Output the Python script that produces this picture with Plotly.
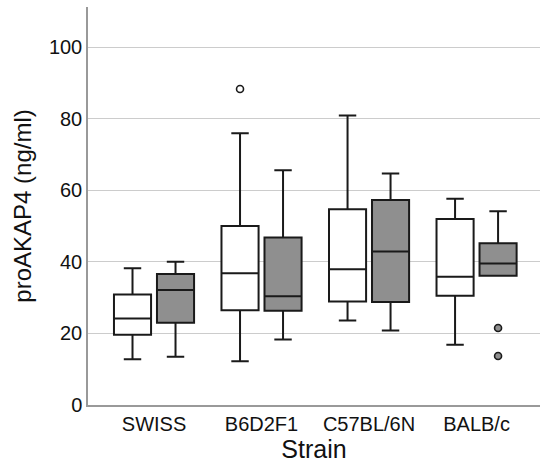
import plotly.graph_objects as go

strains = ["SWISS", "B6D2F1", "C57BL/6N", "BALB/c"]

# group A (white boxes)
a_low = [12.8, 12.2, 23.6, 16.8]
a_q1 = [19.6, 26.5, 28.9, 30.5]
a_med = [24.2, 36.8, 37.9, 35.8]
a_q3 = [30.9, 50.0, 54.7, 52.0]
a_high = [38.2, 75.9, 80.9, 57.6]
a_out_strain = [1]
a_out_val = [88.3]

# group B (gray boxes)
b_low = [13.5, 18.3, 20.8, 36.1]
b_q1 = [23.0, 26.3, 28.8, 36.1]
b_med = [32.1, 30.4, 42.9, 39.5]
b_q3 = [36.6, 46.8, 57.3, 45.2]
b_high = [40.0, 65.6, 64.7, 54.1]
b_out_strain = [3, 3]
b_out_val = [21.5, 13.7]

off = 0.2
bw = 0.345
idx = list(range(len(strains)))

fig = go.Figure()
fig.add_trace(go.Box(
    x=[i - off for i in idx], q1=a_q1, median=a_med, q3=a_q3,
    lowerfence=a_low, upperfence=a_high, width=bw, whiskerwidth=0.47,
    fillcolor="white", line=dict(color="#1a1a1a", width=2), boxpoints=False,
    showlegend=False))
fig.add_trace(go.Box(
    x=[i + off for i in idx], q1=b_q1, median=b_med, q3=b_q3,
    lowerfence=b_low, upperfence=b_high, width=bw, whiskerwidth=0.47,
    fillcolor="#8f8f8f", line=dict(color="#1a1a1a", width=2), boxpoints=False,
    showlegend=False))
fig.add_trace(go.Scatter(
    x=[s - off for s in a_out_strain], y=a_out_val, mode="markers",
    marker=dict(symbol="circle", size=7, color="white", line=dict(color="#1a1a1a", width=1.6)),
    showlegend=False))
fig.add_trace(go.Scatter(
    x=[s + off for s in b_out_strain], y=b_out_val, mode="markers",
    marker=dict(symbol="circle", size=7, color="#8f8f8f", line=dict(color="#1a1a1a", width=1.6)),
    showlegend=False))

fig.update_layout(
    width=540, height=466,
    margin=dict(l=88, r=0, t=7, b=61),
    paper_bgcolor="white", plot_bgcolor="white",
    font=dict(family="Liberation Sans, Arial, sans-serif", color="#111"),
    xaxis=dict(
        range=[-0.614, 3.59], tickvals=idx, ticktext=strains, automargin=False,
        showgrid=False, zeroline=False, showline=True, linecolor="#999", linewidth=1.5,
        ticks="", tickfont=dict(size=20),
        title=dict(text="Strain", font=dict(size=25), standoff=7)),
    yaxis=dict(
        range=[0, 111.2], tickvals=[0, 20, 40, 60, 80, 100], automargin=False,
        showgrid=True, gridcolor="#cccccc", gridwidth=1.2, zeroline=False,
        showline=True, linecolor="#999", linewidth=1.5, ticks="",
        tickfont=dict(size=20),
        title=dict(text="proAKAP4 (ng/ml)", font=dict(size=24), standoff=10)),
)

fig.write_html("out.html", config={"displayModeBar": False},
               post_script="document.body.style.margin='0';")
